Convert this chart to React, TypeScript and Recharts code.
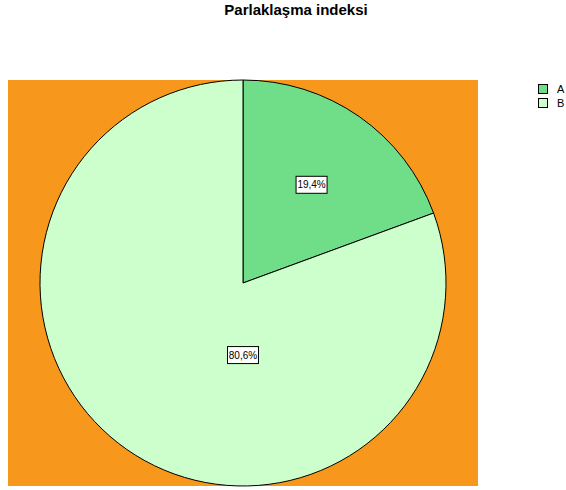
import React from "react";
import { PieChart, Pie, Cell } from "recharts";

const categories = ["A", "B"];
const values = [19.4, 80.6];
const labels = ["19,4%", "80,6%"];
const colors = ["#70dd88", "#ccffcc"];
const title = "Parlaklaşma indeksi";

const data = categories.map((c, i) => ({ name: c, value: values[i], label: labels[i] }));

const RAD = Math.PI / 180;

const renderLabel = (props: any) => {
  const { cx, cy, outerRadius, midAngle, percent, index } = props;
  let ang = midAngle;
  let rf = 0.59;
  if (percent > 0.5) {
    ang = -90;
    rf = 0.355;
  }
  const x = cx + outerRadius * rf * Math.cos(-ang * RAD);
  const y = cy + outerRadius * rf * Math.sin(-ang * RAD);
  const text = labels[index];
  const w = 31;
  const h = 17;
  return (
    <g key={"lbl" + index}>
      <rect x={x - w / 2} y={y - h / 2} width={w} height={h} fill="#ffffff" stroke="#000000" strokeWidth={1} />
      <text
        x={x}
        y={y + 3.5}
        textAnchor="middle"
        fontFamily="'Liberation Sans', Arial, sans-serif"
        fontSize={10}
        fill="#000000"
      >
        {text}
      </text>
    </g>
  );
};

export default function App() {
  return (
    <div style={{ position: "absolute", left: 0, top: 0, width: 566, height: 490, background: "#ffffff" }}>
      <div
        style={{
          position: "absolute",
          left: 0,
          width: 592,
          top: 1,
          textAlign: "center",
          fontFamily: "'Liberation Sans', Arial, sans-serif",
          fontWeight: "bold",
          fontSize: 15,
          lineHeight: "17px",
          color: "#000",
        }}
      >
        {title}
      </div>
      <div style={{ position: "absolute", left: 8, top: 80, width: 470, height: 406, background: "#f7981d" }} />
      <div style={{ position: "absolute", left: 0, top: 0 }}>
        <PieChart width={566} height={490} margin={{ top: 0, right: 0, bottom: 0, left: 0 }}>
          <Pie
            data={data}
            dataKey="value"
            nameKey="name"
            cx={243}
            cy={283}
            outerRadius={203}
            innerRadius={0}
            startAngle={90}
            endAngle={-270}
            stroke="#000000"
            strokeWidth={1}
            label={renderLabel}
            labelLine={false}
            isAnimationActive={false}
          >
            {data.map((d, i) => (
              <Cell key={d.name} fill={colors[i]} />
            ))}
          </Pie>
        </PieChart>
      </div>
      <div style={{ position: "absolute", left: 538, top: 82, fontFamily: "'Liberation Sans', Arial, sans-serif", fontSize: 11 }}>
        {categories.map((c, i) => (
          <div key={c} style={{ display: "flex", alignItems: "center", height: 14 }}>
            <div style={{ width: 8, height: 8, background: colors[i], border: "1px solid #000" }} />
            <span style={{ marginLeft: 9, lineHeight: "11px" }}>{c}</span>
          </div>
        ))}
      </div>
    </div>
  );
}
